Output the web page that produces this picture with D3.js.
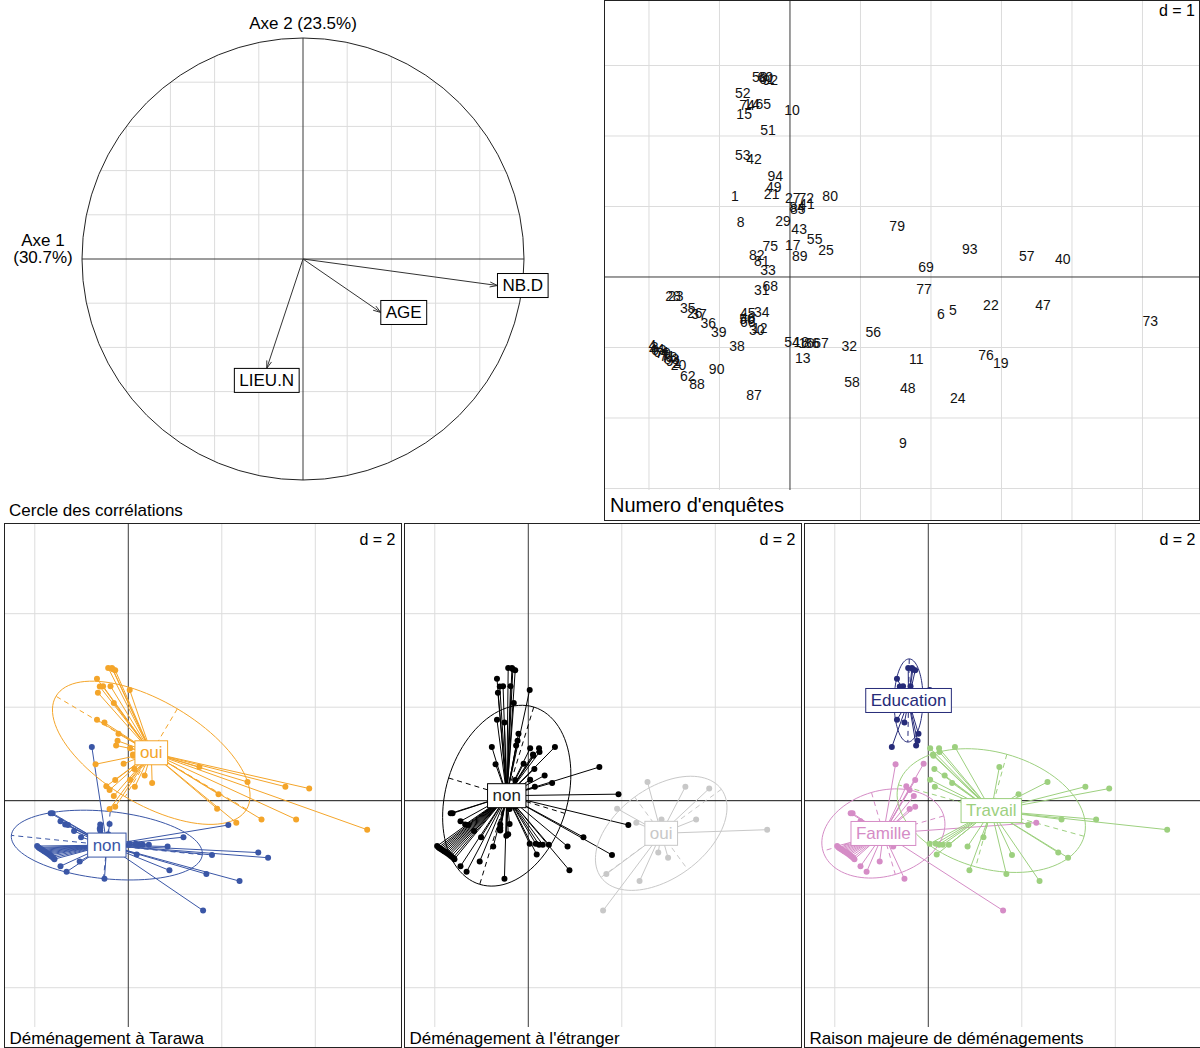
<!DOCTYPE html>
<html><head><meta charset="utf-8">
<script src="https://cdn.jsdelivr.net/npm/d3@7"></script>
<style>body{margin:0;background:#fff} svg{display:block} text{font-family:"Liberation Sans",Arial,sans-serif}</style>
</head><body><svg id="c" width="1200" height="1048"></svg>
<script>
// ---------------- DATA ----------------
const ids = [1,2,3,4,5,6,7,8,9,10,11,12,13,14,15,16,17,18,19,20,21,22,23,24,25,26,27,28,29,30,31,32,33,34,35,36,37,38,39,40,41,42,43,44,45,46,47,48,49,50,51,52,53,54,55,56,57,58,59,60,61,62,63,64,65,66,67,68,69,70,71,72,73,74,75,76,77,78,79,80,81,82,83,84,85,86,87,88,89,90,91,92,93,94];
const axe1 = [-0.78,-1.61,-1.92,-1.95,2.31,2.14,-1.77,-0.70,1.60,0.03,1.79,-0.43,0.18,-0.54,-0.65,0.23,0.04,0.16,2.99,-1.58,-0.26,2.85,-1.62,2.38,0.51,-1.35,0.04,-1.66,-0.10,-0.47,-0.40,0.84,-0.31,-0.40,-1.45,-1.16,-1.29,-0.75,-1.01,3.87,0.24,-0.51,0.13,-1.89,-0.60,-0.60,3.59,1.67,-0.23,-0.61,-0.31,-0.67,-0.67,0.03,0.35,1.18,3.36,0.88,-0.43,-0.35,-0.33,-1.45,-1.86,-1.83,-0.38,-0.60,0.44,-0.28,1.93,-1.80,-1.74,0.23,5.11,-0.61,-0.28,2.78,1.90,-1.71,1.52,0.57,-0.40,-0.47,-1.68,0.10,0.11,0.31,-0.51,-1.32,0.14,-1.04,-1.65,-0.28,2.55,-0.21];
const axe2 = [1.15,-1.22,-1.00,-0.97,-0.47,-0.52,-1.10,0.78,-2.35,2.37,-1.16,-0.72,-1.15,2.45,2.31,-0.94,0.45,-0.92,-1.22,-1.25,1.18,-0.40,-0.27,-1.72,0.38,-0.51,1.12,-0.27,0.79,-0.75,-0.18,-0.98,0.10,-0.50,-0.44,-0.65,-0.52,-0.98,-0.78,0.26,1.04,1.67,0.68,-1.02,-0.51,-0.58,-0.40,-1.57,1.28,-0.60,2.09,2.61,1.73,-0.92,0.54,-0.78,0.30,-1.49,2.84,2.84,2.81,-1.40,-1.04,-1.06,2.45,-0.64,-0.94,-0.13,0.14,-1.08,-1.12,1.12,-0.62,2.44,0.44,-1.11,-0.17,-1.14,0.72,1.15,0.23,0.31,-1.16,0.99,0.96,-0.94,-1.67,-1.52,0.30,-1.30,-1.19,2.79,0.40,1.43];
const tarawa = ["non","non","non","non","oui","non","non","oui","non","oui","non","non","non","oui","oui","non","oui","non","non","non","oui","oui","non","non","oui","non","oui","non","oui","non","oui","non","oui","non","non","non","non","non","non","oui","oui","oui","oui","non","non","non","oui","non","oui","non","oui","oui","oui","non","oui","non","oui","non","oui","oui","oui","non","non","non","oui","non","non","oui","oui","non","non","oui","oui","oui","oui","non","oui","non","oui","oui","oui","oui","non","oui","oui","non","non","non","oui","non","non","oui","oui","oui"];
const etranger = ["non","non","non","non","oui","non","non","non","oui","non","non","non","non","non","non","non","non","non","oui","non","non","oui","non","oui","non","non","non","non","non","non","non","non","non","non","non","non","non","non","non","oui","non","non","non","non","non","non","oui","oui","non","non","non","non","non","non","non","non","oui","non","non","non","non","non","non","non","non","non","non","non","non","non","non","non","oui","non","non","oui","oui","non","non","non","non","non","non","non","non","non","non","non","non","non","non","non","oui","non"];
const raison = ["Education","Famille","Famille","Famille","Famille","Travail","Famille","Famille","Famille","Education","Travail","Famille","Travail","Education","Education","Travail","Travail","Travail","Travail","Famille","Education","Travail","Famille","Travail","Travail","Famille","Travail","Famille","Famille","Famille","Famille","Travail","Famille","Famille","Famille","Famille","Famille","Famille","Famille","Travail","Travail","Education","Travail","Famille","Famille","Famille","Travail","Travail","Education","Famille","Education","Education","Education","Travail","Travail","Travail","Travail","Travail","Education","Education","Education","Famille","Famille","Famille","Education","Famille","Travail","Famille","Travail","Famille","Famille","Travail","Travail","Education","Famille","Travail","Travail","Famille","Travail","Travail","Famille","Famille","Famille","Travail","Travail","Travail","Famille","Famille","Travail","Famille","Famille","Education","Travail","Education"];

const varNames = ["NB.D","AGE","LIEU.N"];
const varAxe1 = [0.88, 0.352, -0.164];
const varAxe2 = [-0.12, -0.242, -0.495];

const tarawaLevels = ["non","oui"];
const etrangerLevels = ["non","oui"];
const raisonLevels = ["Education","Famille","Travail"];

// ---------------- STYLE ----------------
const svg = d3.select("#c");
const GRID = "#dcdcdc", AXIS = "#3a3a3a";

function boxedText(g, x, y, txt, opt) {
  const t = g.append("text").attr("x", x).attr("y", y).text(txt)
    .attr("font-size", opt.size).attr("fill", opt.color || "#000")
    .attr("text-anchor", opt.anchor || "middle").attr("dominant-baseline", "central");
  const w = t.node().getComputedTextLength() + (opt.pad != null ? opt.pad : 10);
  const h = opt.h || 24;
  let x0 = opt.anchor === "start" ? x - (opt.padL||5) : opt.anchor === "end" ? x - w + 5 : x - w / 2;
  g.insert("rect", () => t.node()).attr("x", x0).attr("y", y - h / 2).attr("width", w).attr("height", h)
    .attr("fill", "#fff").attr("stroke", opt.stroke || "none").attr("stroke-width", 1);
  return w;
}

// ---------------- CORRELATION CIRCLE ----------------
(function () {
  const g = svg.append("g");
  const cx = d3.scaleLinear().domain([-1, 1]).range([82, 524]);
  const cy = d3.scaleLinear().domain([-1, 1]).range([480, 38]);
  const gridVals = [-0.8, -0.6, -0.4, -0.2, 0.2, 0.4, 0.6, 0.8];
  gridVals.forEach(v => {
    const s = Math.sqrt(1 - v * v);
    g.append("line").attr("x1", cx(v)).attr("x2", cx(v)).attr("y1", cy(-s)).attr("y2", cy(s)).attr("stroke", GRID);
    g.append("line").attr("y1", cy(v)).attr("y2", cy(v)).attr("x1", cx(-s)).attr("x2", cx(s)).attr("stroke", GRID);
  });
  g.append("line").attr("x1", cx(-1)).attr("x2", cx(1)).attr("y1", cy(0)).attr("y2", cy(0)).attr("stroke", AXIS);
  g.append("line").attr("x1", cx(0)).attr("x2", cx(0)).attr("y1", cy(-1)).attr("y2", cy(1)).attr("stroke", AXIS);
  g.append("circle").attr("cx", cx(0)).attr("cy", cy(0)).attr("r", cx(1) - cx(0)).attr("fill", "none").attr("stroke", "#222");
  varNames.forEach((nm, i) => {
    const x0 = cx(0), y0 = cy(0), x1 = cx(varAxe1[i]), y1 = cy(varAxe2[i]);
    g.append("line").attr("x1", x0).attr("y1", y0).attr("x2", x1).attr("y2", y1).attr("stroke", "#333");
    const a = Math.atan2(y1 - y0, x1 - x0), L = 8, th = 18 * Math.PI / 180;
    [a + Math.PI - th, a + Math.PI + th].forEach(b => {
      g.append("line").attr("x1", x1).attr("y1", y1).attr("x2", x1 + L * Math.cos(b)).attr("y2", y1 + L * Math.sin(b)).attr("stroke", "#333");
    });
    // label placement like ade4 scatterutil.eti.circ
    const tmp = g.append("text").attr("font-size", 17).text(nm);
    const w = tmp.node().getComputedTextLength() + 10; tmp.remove();
    const h = 24;
    const xr = varAxe1[i], yr = varAxe2[i];
    let lx = x1, ly = y1;
    if (xr > Math.abs(yr)) lx = x1 + w / 2;
    else if (-xr > Math.abs(yr)) lx = x1 - w / 2;
    else if (yr > Math.abs(xr)) ly = y1 - h / 2;
    else ly = y1 + h / 2;
    boxedText(g, lx, ly, nm, { size: 17, stroke: "#000" });
  });
  g.append("text").attr("x", cx(0)).attr("y", 23).attr("text-anchor", "middle").attr("dominant-baseline", "central").attr("font-size", 17).text("Axe 2 (23.5%)");
  g.append("text").attr("x", 43).attr("y", 240).attr("text-anchor", "middle").attr("dominant-baseline", "central").attr("font-size", 17).text("Axe 1");
  g.append("text").attr("x", 43).attr("y", 257).attr("text-anchor", "middle").attr("dominant-baseline", "central").attr("font-size", 17).text("(30.7%)");
  g.append("text").attr("x", 9).attr("y", 510).attr("dominant-baseline", "central").attr("font-size", 17).text("Cercle des corrélations");
})();

// ---------------- INDIVIDUALS (LABELS) ----------------
(function () {
  const g = svg.append("g");
  const X0 = 604.5, X1 = 1199.5, Y0 = 0.5, Y1 = 520.5;
  const xs = d3.scaleLinear().domain([-2.631, 5.809]).range([X0, X1]);
  const ys = d3.scaleLinear().domain([-3.454, 3.922]).range([Y1, Y0]);
  const cl = "clipTR";
  g.append("clipPath").attr("id", cl).append("rect").attr("x", X0).attr("y", Y0).attr("width", X1 - X0).attr("height", Y1 - Y0);
  const gg = g.append("g").attr("clip-path", `url(#${cl})`);
  for (let v = Math.ceil(xs.domain()[0]); v <= xs.domain()[1]; v++) if (v !== 0)
    gg.append("line").attr("x1", xs(v)).attr("x2", xs(v)).attr("y1", Y0).attr("y2", Y1).attr("stroke", GRID);
  for (let v = Math.ceil(ys.domain()[0]); v <= ys.domain()[1]; v++) if (v !== 0)
    gg.append("line").attr("y1", ys(v)).attr("y2", ys(v)).attr("x1", X0).attr("x2", X1).attr("stroke", GRID);
  gg.append("line").attr("x1", xs(0)).attr("x2", xs(0)).attr("y1", Y0).attr("y2", Y1).attr("stroke", AXIS);
  gg.append("line").attr("y1", ys(0)).attr("y2", ys(0)).attr("x1", X0).attr("x2", X1).attr("stroke", AXIS);
  ids.forEach((id, i) => {
    gg.append("text").attr("x", xs(axe1[i])).attr("y", ys(axe2[i])).attr("text-anchor", "middle")
      .attr("dominant-baseline", "central").attr("font-size", 14).attr("fill", "#111").text(id);
  });
  boxedText(gg, 1195, 10, "d = 1", { size: 16, anchor: "end", h: 20 });
  boxedText(gg, 610, 505, "Numero d'enquêtes", { size: 20, anchor: "start", h: 30, pad: 14 });
  g.append("rect").attr("x", X0).attr("y", Y0).attr("width", X1 - X0).attr("height", Y1 - Y0).attr("fill", "none").attr("stroke", "#222");
})();

// ---------------- CLASS PANELS ----------------
function ellipseOf(px, py, coeff) {
  const n = px.length, mx = d3.mean(px), my = d3.mean(py);
  let vx = 0, vy = 0, cxy = 0;
  for (let i = 0; i < n; i++) { vx += (px[i] - mx) ** 2 / n; vy += (py[i] - my) ** 2 / n; cxy += (px[i] - mx) * (py[i] - my) / n; }
  const delta = Math.sqrt((vx - vy) ** 2 + 4 * cxy * cxy);
  let l1 = (vx + vy + delta) / 2, l2 = vx + vy - l1;
  l1 = Math.sqrt(Math.max(0, l1)); l2 = Math.sqrt(Math.max(0, l2));
  let a0, b0;
  if (Math.abs(cxy) < 1e-10) { if (vx > vy) { a0 = 1; b0 = 0; } else { a0 = 0; b0 = 1; } }
  else { a0 = 1; b0 = (l1 * l1 - vx) / cxy; const nm = Math.hypot(a0, b0); a0 /= nm; b0 /= nm; }
  const c11 = coeff * a0 * l1, c12 = -coeff * b0 * l2, c21 = coeff * b0 * l1, c22 = coeff * a0 * l2;
  const pts = d3.range(0, 101).map(k => { const t = 2 * Math.PI * k / 100; return [mx + c11 * Math.cos(t) + c12 * Math.sin(t), my + c21 * Math.cos(t) + c22 * Math.sin(t)]; });
  return { mx, my, pts, seg1: [mx + c11, my + c21, mx - c11, my - c21], seg2: [mx + c12, my + c22, mx - c12, my - c22] };
}

function classPanel(k, factor, levels, colors, textColors, subtitle) {
  const ox = 400 * k;
  const X0 = 4.5 + ox, X1 = 401.5 + ox, Y0 = 523.5, Y1 = 1047.5;
  const xs = d3.scaleLinear().domain([-2.648, 5.844]).range([X0, X1]);
  const ys = d3.scaleLinear().domain([-5.279, 5.929]).range([Y1, Y0]);
  const g = svg.append("g");
  const cl = "clipB" + k;
  g.append("clipPath").attr("id", cl).append("rect").attr("x", X0).attr("y", Y0).attr("width", X1 - X0).attr("height", Y1 - Y0);
  const gg = g.append("g").attr("clip-path", `url(#${cl})`);
  for (let v = Math.ceil(xs.domain()[0] / 2) * 2; v <= xs.domain()[1]; v += 2) if (v !== 0)
    gg.append("line").attr("x1", xs(v)).attr("x2", xs(v)).attr("y1", Y0).attr("y2", Y1).attr("stroke", GRID);
  for (let v = Math.ceil(ys.domain()[0] / 2) * 2; v <= ys.domain()[1]; v += 2) if (v !== 0)
    gg.append("line").attr("y1", ys(v)).attr("y2", ys(v)).attr("x1", X0).attr("x2", X1).attr("stroke", GRID);
  gg.append("line").attr("x1", xs(0)).attr("x2", xs(0)).attr("y1", Y0).attr("y2", Y1).attr("stroke", AXIS);
  gg.append("line").attr("y1", ys(0)).attr("y2", ys(0)).attr("x1", X0).attr("x2", X1).attr("stroke", "#111");

  const groups = levels.map((lv, j) => {
    const idx = ids.map((d, i) => i).filter(i => factor[i] === lv);
    const px = idx.map(i => axe1[i]), py = idx.map(i => axe2[i]);
    return { lv, col: colors[j], tcol: textColors[j], px, py, e: ellipseOf(px, py, 1.5) };
  });
  const line = d3.line().x(d => xs(d[0])).y(d => ys(d[1]));
  groups.forEach(G => {
    G.px.forEach((x, i) => gg.append("line").attr("x1", xs(G.e.mx)).attr("y1", ys(G.e.my)).attr("x2", xs(x)).attr("y2", ys(G.py[i])).attr("stroke", G.col).attr("stroke-width", 1));
  });
  groups.forEach(G => {
    gg.append("path").attr("d", line(G.e.pts)).attr("fill", "none").attr("stroke", G.col).attr("stroke-width", 1);
    [G.e.seg1, G.e.seg2].forEach(s => gg.append("line").attr("x1", xs(s[0])).attr("y1", ys(s[1])).attr("x2", xs(s[2])).attr("y2", ys(s[3]))
      .attr("stroke", G.col).attr("stroke-dasharray", "5,4"));
  });
  groups.forEach(G => {
    G.px.forEach((x, i) => gg.append("circle").attr("cx", xs(x)).attr("cy", ys(G.py[i])).attr("r", 3).attr("fill", G.col));
  });
  groups.forEach(G => boxedText(gg, xs(G.e.mx), ys(G.e.my), G.lv, { size: 17, color: G.tcol, stroke: G.col }));
  boxedText(gg, X1 - 6, 539, "d = 2", { size: 16, anchor: "end", h: 20 });
  boxedText(gg, X0 + 5, 1038, subtitle, { size: 17, anchor: "start", h: 22, pad: 10 });
  g.append("rect").attr("x", X0).attr("y", Y0).attr("width", X1 - X0).attr("height", Y1 - Y0).attr("fill", "none").attr("stroke", "#222");
}

classPanel(0, tarawa, tarawaLevels, ["#3A56A6", "#F4A52A"], ["#3A56A6", "#F4A52A"], "Déménagement à Tarawa");
classPanel(1, etranger, etrangerLevels, ["#000000", "#C8C8C8"], ["#222222", "#C8C8C8"], "Déménagement à l'étranger");
classPanel(2, raison, raisonLevels, ["#262B79", "#D58CC6", "#9DD07F"], ["#262B79", "#D58CC6", "#9DD07F"], "Raison majeure de déménagements");
</script></body></html>
